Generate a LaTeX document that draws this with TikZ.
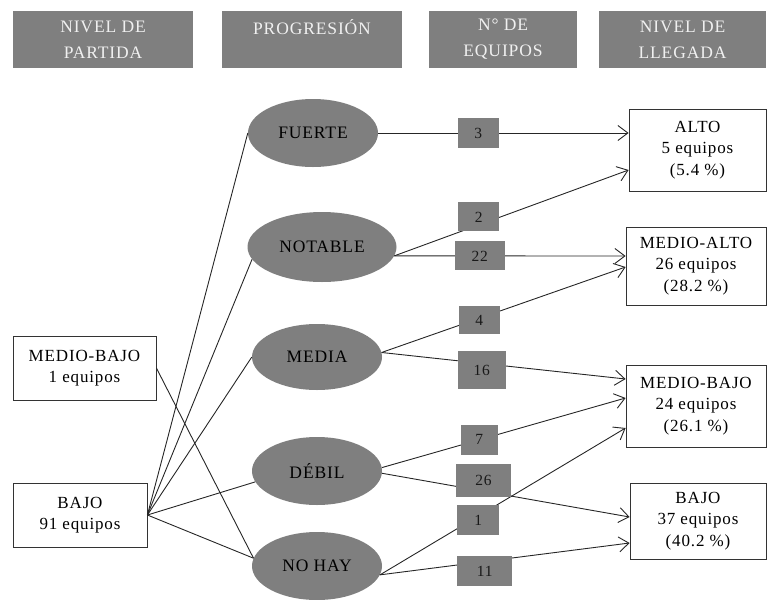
\documentclass[tikz,border=0pt]{standalone}
\usepackage{fontspec}
\setmainfont[LetterSpace=5]{Liberation Serif}
\newfontfamily\headfont[LetterSpace=5]{Liberation Serif}
\usetikzlibrary{shapes.geometric,arrows.meta}
\definecolor{boxgray}{HTML}{7F7F7F}

\begin{document}
\begin{tikzpicture}[x=1pt,y=-1pt,
  head/.style={rectangle,fill=boxgray,text=white!94!black,minimum height=57pt,inner sep=0pt,align=center,font=\headfont\fontsize{17.5}{26}\selectfont},
  level/.style={rectangle,draw=black!80,line width=0.8pt,fill=white,inner sep=0pt,align=center,font=\fontsize{17}{21.5}\selectfont},
  prog/.style={ellipse,fill=boxgray,inner sep=0pt,font=\fontsize{17.5}{20}\selectfont},
  num/.style={rectangle,fill=boxgray,minimum width=41pt,minimum height=30pt,inner sep=0pt,text=black!90,font=\fontsize{15.5}{17}\selectfont},
  link/.style={line width=0.9pt,draw=black!85},
  flow/.style={link,-{Straight Barb[length=10pt,width=15pt]}}]
  \useasboundingbox (0,0) rectangle (769,600);

  \node[head,minimum width=180pt] (hpartida) at (103,39.5) {NIVEL DE\\PARTIDA};
  \node[head,minimum width=180pt] (hprog) at (312,39.5) {PROGRESIÓN\\~};
  \node[head,minimum width=148pt] (hnum) at (503,39.5) {N° DE\\EQUIPOS};
  \node[head,minimum width=167pt] (hllegada) at (682.5,39.5) {NIVEL DE\\LLEGADA};

  \node[level,minimum width=143pt,minimum height=64pt] (mbajoini) at (84.5,368) {MEDIO-BAJO\\1 equipos};
  \node[level,minimum width=134pt,minimum height=64pt] (bajoini) at (80,515) {BAJO\\91 equipos};

  \node[prog,minimum width=130pt,minimum height=68pt] (fuerte) at (313,133) {FUERTE};
  \node[prog,minimum width=149pt,minimum height=70pt] (notable) at (322,247) {NOTABLE};
  \node[prog,minimum width=130pt,minimum height=66pt] (media) at (317,357) {MEDIA};
  \node[prog,minimum width=130pt,minimum height=68pt] (debil) at (317,471) {DÉBIL};
  \node[prog,minimum width=130pt,minimum height=68pt] (nohay) at (317,566) {NO HAY};

  \node[level,minimum width=137pt,minimum height=82pt] (alto) at (697.5,150) {ALTO\\5 equipos\\(5.4 \%)};
  \node[level,minimum width=140pt,minimum height=78pt] (malto) at (696,266) {MEDIO-ALTO\\26 equipos\\(28.2 \%)};
  \node[level,minimum width=140pt,minimum height=82pt] (mbajo) at (696,406) {MEDIO-BAJO\\24 equipos\\(26.1 \%)};
  \node[level,minimum width=136pt,minimum height=76pt] (bajo) at (698,521) {BAJO\\37 equipos\\(40.2 \%)};

  \draw[link] (bajoini.east) -- (fuerte.west);
  \draw[link] (bajoini.east) -- (notable.190);
  \draw[link] (bajoini.east) -- (media.west);
  \draw[link] (bajoini.east) -- (debil.190);
  \draw[link] (bajoini.east) -- (nohay.173);
  \draw[link] (mbajoini.east) -- (nohay.173);

  \draw[flow] (fuerte.east) -- node[num,pos=0.4] (n3) {3} ([yshift=17pt]alto.west);
  \draw[flow] (notable.-7) -- node[num,pos=0.36,yshift=8pt,minimum height=29pt] (n2) {2} ([yshift=-20pt]alto.west);
  \draw[flow] (notable.-7) -- node[num,pos=0.37,minimum width=50pt,minimum height=29pt] (n22) {22} ([yshift=10pt]malto.west);
  \draw[flow] (media.4) -- node[num,pos=0.4,yshift=-2pt,minimum height=28pt] (n4) {4} ([yshift=-1pt]malto.west);
  \draw[flow] (media.4) -- node[num,pos=0.41,yshift=-7pt,minimum width=48pt,minimum height=38pt] (n16) {16} ([yshift=27pt]mbajo.west);
  \draw[flow] (debil.3) -- node[num,pos=0.4,minimum width=37pt] (n7) {7} ([yshift=8pt]mbajo.west);
  \draw[flow] (nohay.-8) -- node[num,pos=0.4,yshift=-4pt,minimum width=42pt] (n1) {1} ([yshift=-22pt]mbajo.west);
  \draw[flow] (debil.-2) -- node[num,pos=0.41,yshift=11pt,minimum width=55pt,minimum height=33pt] (n26) {26} ([yshift=4pt]bajo.west);
  \draw[flow] (nohay.-8) -- node[num,pos=0.42,yshift=-10pt,minimum width=55pt] (n11) {11} ([yshift=-22pt]bajo.west);
\end{tikzpicture}
\end{document}
